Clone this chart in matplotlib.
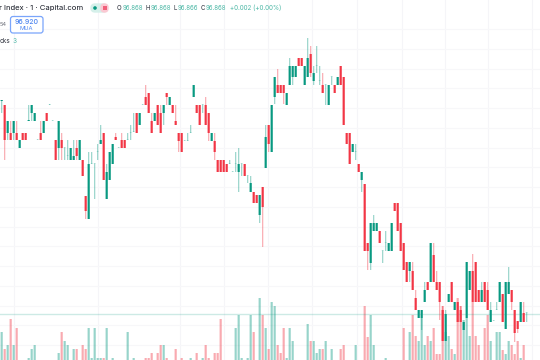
import matplotlib as mpl
mpl.use('Agg')
import matplotlib.pyplot as plt
from matplotlib.patches import FancyBboxPatch, Circle, Rectangle

plt.rcParams['font.family'] = ['Inter', 'DejaVu Sans']

opens = [259,255,227,227,227,227,212,227,227,239,
	247,239,220,227,227,247,255,239,220,212,
	220,212,204,200,200,212,200,200,164,141,
	196,196,208,216,227,161,180,196,223,212,
	220,220,220,227,228,247,235,255,263,267,
	239,239,255,247,247,267,255,255,239,227,
	227,219,219,227,263,255,255,255,255,247,
	219,219,200,200,200,196,196,188,196,188,
	196,196,184,168,168,165,145,173,192,235,
	208,263,275,275,275,255,275,283,283,302,
	302,275,283,306,279,294,279,275,275,255,
	283,275,275,294,283,227,227,208,208,196,
	180,176,117,97,129,129,129,109,117,109,
	109,157,157,137,117,98,89,89,62,42,
	42,58,78,78,105,78,78,50,19,58,
	78,50,58,50,30,42,70,89,98,70,
	58,78,70,38,39,50,58,66,31,66,
	70,50,39,38,47,47]
highs = [260,255,239,239,239,239,220,227,227,255,
	255,247,220.5,239,239,247,256,239.5,220,239,
	227,212.5,220,212,220,220,220,200,164,208,
	208,196.5,216,235,227,196,208,216,227,212.5,
	227,220,227,235,247,247,247,255.5,275,267,
	247,247,255,255,255,267,263,255,255,227,
	227,219.5,227,235,275,255,255,255.5,263,247,
	227,227,200,200,200,196,200,188.5,208,212,
	196.5,196,184.5,184,168,165,165,173,235,235,
	255,283,291,275,275,267,302,294,294,302,
	302,294,322,314,294,314,294,287,275.5,275,
	283.5,275,283,294,283,227,227,216,216,196,
	188,176,117,137,145,137,129,109.5,129,117,
	137,157,157,137,117,98,98,98,70,50,
	50,78,78,117,117,89,78,54,50,66,
	78,58,58,54,38,98,89,106,98,70,
	78,78,78,58,39.5,58,78,66,78,93,
	70,50,39,58,58,47.5]
lows = [247,200,220,220,220,220,212,220,220,239,
	239,239,220,220,227,239,255,239,200,200,
	200,200,200,200,200,200,200,184,141,141,
	196,161,200,216,180,161,180,196,220,212,
	212,212,220,220,228,227,235,255,255,247,
	227,239,235,227,235,255,255,247,235,208,
	208,219,219,227,263,247,235,247,235,219,
	219,200,188,188,188,188,196,188,188,168,
	184,184,177,168,157,157,137,113,192,208,
	208,256,267,267,256,255,275,275,283,294,
	294,275,283,283,275,287,275,267,255,255,
	275,267,275,275,235,216,196,208,200,188,
	168,109,90,90,129,129,117,97,109,109,
	109,149,129,109,90,78,78,70,50,42,
	30,58,70,78,78,70,40,19,19,58,
	58,50,38,38,30,42,70,58,58,58,
	58,58,50,38,39,50,58,38,31,66,
	50,18,27,38,38,38]
closes = [260,220,239,220,239,220,220,220,220,240,
	255,247,220.5,220,239,239,255.5,239.5,200,239,
	212,212.5,204.5,212,204,204,220,184,149,196,
	196.5,196.5,208.5,220,180,188,208,216,220,212.5,
	212,212,220.5,227.5,228.5,227,247,255.5,255,247,
	227,247,235,227,255,263,263,247,235,219,
	208,219.5,219.5,227.5,275,247,235,255.5,235,227,
	227,208,188,188,188,188,196.5,188.5,196.5,196,
	196.5,184,184.5,177,157,157,165,153,223,216,
	255,283,267,267,267,267,294,294,294,294,
	294,294,302,287,287,294.5,279.5,267,275.5,275,
	283.5,267,283,275,235,216,196,216,208.5,188,
	188,109,109,137,137,137,117,109.5,117.5,117,
	137,149,129,109,90,78,98,70,50,50,
	50,70,70,117,78,70,58,19,46,66,
	58,58,38,38,38,98,89,58,58,58,
	70,58,50,50,39.5,50.5,78,38,78,78,
	58,27,31,58,38,47.5]
volumes = [28,11,15,41,15,32,0,0,0,2,
	11,15,0,0,0,0,0,0,0,7,
	28,19,15,0,11,11,0,15,11,32,
	2,32,2,2,2,32,0,2,0,0,
	0,0,28,0,2,0,0,0,2,2,
	7,0,7,15,15,2,0,0,11,0,
	2,0,0,2,0,7,0,2,15,2,
	0,7,7,41,0,0,0,0,32,45,
	2,0,2,45,28,0,62,45,32,11,
	58,54,15,7,32,2,32,19,0,0,
	0,0,36,19,19,7,11,11,19,0,
	11,0,0,11,15,0,0,0,15,0,
	0,54,23,45,15,0,0,0,2,0,
	0,0,0,0,32,0,28,45,24,19,
	42,15,24,19,32,6,6,54,28,24,
	11,6,62,54,40,42,24,58,24,15,
	0,32,45,19,0,28,28,10,6,19,
	15,6,19,2,15,0]

grid_x = [4.1,32.1,59.4,74,88.8,103.4,118.4,133.4,147.8,162,176.8]
grid_y = [331,311,291.5,272,252,232,212.5,193,173,153,133.5,114,94,74,54.5,35,15]
last_price = 46.5

green = '#089981'
red = '#f23645'

fig = plt.figure(figsize=(5.4, 3.6), dpi=100)
ax = fig.add_axes([0, 0, 1, 1])
ax.set_xlim(-0.557, 179.44)
ax.set_ylim(0, 360)
ax.axis('off')

for x in grid_x:
	ax.axvline(x, color='#f5f5f8', lw=0.8, zorder=0)
for y in grid_y:
	ax.axhline(y, color='#f7f7f9', lw=0.8, zorder=0)

for i in range(len(opens)):
	up = closes[i] >= opens[i]
	colour = green if up else red
	if volumes[i] > 0:
		ax.bar(i, volumes[i], width=0.72, color=colour, alpha=0.42, lw=0, zorder=1, snap=False)
	ax.plot([i, i], [lows[i], highs[i]], color=colour, alpha=0.42, lw=0.85,
		solid_capstyle='butt', zorder=2, snap=False)
	body = abs(closes[i] - opens[i])
	flat = body < 1
	ax.bar(i, body, bottom=min(opens[i], closes[i]), width=0.72 if not flat else 0.6,
		color=colour, alpha=0.45 if flat else 1, lw=0, zorder=3, snap=False)

ax.axhline(last_price, color='#089981', alpha=0.2, lw=1, zorder=2)

# header overlay, measured in pixels
over = fig.add_axes([0, 0, 1, 1])
over.set_xlim(0, 540)
over.set_ylim(360, 0)
over.axis('off')
over.patch.set_alpha(0)

over.text(-1, 8, 'r Index · 1 · Capital.com', fontsize=5.5, color='#131722', va='center')

over.add_patch(FancyBboxPatch((91, 4), 16, 8, boxstyle='round,pad=0,rounding_size=4',
	fc='#d5f0ea', ec='#d5f0ea', lw=1))
over.add_patch(FancyBboxPatch((101, 4), 7, 8, boxstyle='round,pad=0,rounding_size=3.5',
	fc='#fbc9d3', ec='#fbc9d3', lw=1))
over.add_patch(Circle((95, 8), 1.8, fc=green, ec='none'))
over.add_patch(Rectangle((102.5, 6), 4, 4, fc='#f0607a', ec='none'))

over_vals = [(117, 'O', 122.5, '96.868'), (145.5, 'H', 151, '96.868'),
	(173, 'L', 178, '96.866'), (201, 'C', 206, '96.868')]
for lx, label, vx, val in over_vals:
	over.text(lx, 8, label, fontsize=4.4, color='#2a2e39', va='center')
	over.text(vx, 8, val, fontsize=4.4, color='#4db8a6', va='center')
over.text(229.5, 8, '+0.002 (+0.00%)', fontsize=4.5, color='#4db8a6', va='center')

over.add_patch(FancyBboxPatch((10.5, 16.5), 32.5, 16.5, boxstyle='round,pad=0,rounding_size=2.5',
	fc='white', ec='#7aa5fb', lw=0.9))
over.text(26.7, 21.5, '96.920', fontsize=5, color='#4f86f0', ha='center', va='center', fontweight='medium')
over.text(26.7, 28.2, 'MUA', fontsize=4.2, color='#4f86f0', ha='center', va='center')
over.text(0, 24.5, '54', fontsize=4, color='#6a6d78', va='center')
over.text(0, 41, 'cks', fontsize=4.6, color='#2a2e39', va='center')
over.text(13, 41, '3', fontsize=4.6, color='#4db8a6', va='center')

fig.savefig('out.png', dpi=100)
